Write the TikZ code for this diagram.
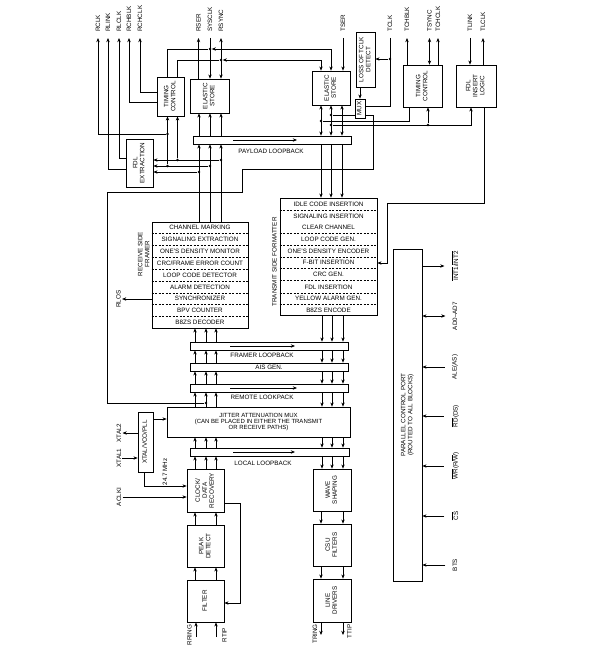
\documentclass[tikz,border=0pt]{standalone}
\usepackage{fontspec}
\setmainfont{Liberation Sans}
\usetikzlibrary{arrows.meta,calc}
\newcommand\vtxt[1]{\rotatebox{90}{\begin{tabular}{@{}c@{}}#1\end{tabular}}}
\newcommand\ovl[1]{$\overline{\mbox{#1}}$}

\begin{document}
\begin{tikzpicture}[x=1pt,y=-1pt,>={Stealth[length=4.2pt,width=3.4pt]},line width=0.65pt,
    font=\fontsize{6.3}{7}\selectfont,
    blk/.style={draw,inner sep=0pt},
    barbox/.style={draw,inner sep=0pt,minimum height=8pt},
    pinl/.style={rotate=90,anchor=west,inner xsep=6pt,inner ysep=1pt},
    sidel/.style={rotate=90,inner sep=1pt},
    dot/.style={circle,fill,inner sep=0pt,minimum size=2.8pt},
    rowline/.style={line width=0.4pt,dash pattern=on 2pt off 1.5pt}]
\useasboundingbox (0,0) rectangle (598,669);

% receive side blocks
\node[blk,minimum width=27pt,minimum height=39pt] (rxtc) at (170.5,96.5) {\vtxt{TIMING\\CONTROL}};
\node[blk,minimum width=39pt,minimum height=34pt] (rxes) at (209.5,96) {\vtxt{ELASTIC\\STORE}};
\node[blk,minimum width=27pt,minimum height=48pt] (fdlx) at (139.5,163) {\vtxt{FDL\\EXTRACTION}};
\node[barbox,minimum width=158pt] (pay) at (272,140) {};
\node[blk,minimum width=96pt,minimum height=106pt] (rxfr) at (200,275) {};
\node[sidel] (rxfrl) at (144.5,254) {\begin{tabular}{@{}c@{}}RECEIVE SIDE\\FRAMER\end{tabular}};

% transmit side blocks
\node[blk,minimum width=38pt,minimum height=34pt] (txes) at (331,88) {\vtxt{ELASTIC\\STORE}};
\node[blk,minimum width=19pt,minimum height=55pt] (loss) at (365.5,59.5) {\vtxt{LOSS OF TCLK\\DETECT}};
\node[blk,minimum width=10pt,minimum height=19pt] (mux) at (360,108.5) {\vtxt{MUX}};
\node[blk,minimum width=39pt,minimum height=42pt] (txtc) at (422.5,86) {\vtxt{TIMING\\CONTROL}};
\node[blk,minimum width=40pt,minimum height=42pt] (fdli) at (476,86) {\vtxt{FDL\\INSERT\\LOGIC}};
\node[blk,minimum width=97pt,minimum height=117pt] (txfm) at (328.5,256.5) {};
\node[sidel] (txfml) at (274.5,262) {TRANSMIT SIDE FORMATTER};

% loopbacks and line interface
\node[barbox,minimum width=158pt] (fbar) at (269,346) {};
\node[barbox,minimum width=158pt] (ais) at (269,367) {AIS GEN.};
\node[barbox,minimum width=158pt] (rbar) at (269,388) {};
\node[blk,minimum width=183pt,minimum height=30pt,align=center,font=\fontsize{6}{6.4}\selectfont] (jam) at (258.5,422)
  {JITTER ATTENUATION MUX\\(CAN BE PLACED IN EITHER THE TRANSMIT\\OR RECEIVE PATHS)};
\node[barbox,minimum width=159pt] (lbar) at (269.5,452) {};
\node[blk,minimum width=15pt,minimum height=60pt] (xtal) at (145.5,442) {\vtxt{XTAL/VCO/PLL}};
\node[blk,minimum width=37pt,minimum height=43pt] (cdr) at (205.5,490.5) {\vtxt{CLOCK/\\DATA\\RECOVERY}};
\node[blk,minimum width=37pt,minimum height=42pt] (peak) at (205.5,546) {\vtxt{PEAK\\DETECT}};
\node[blk,minimum width=37pt,minimum height=42pt] (filt) at (205.5,601) {\vtxt{FILTER}};
\node[blk,minimum width=38pt,minimum height=42pt] (wave) at (332,490) {\vtxt{WAVE\\SHAPING}};
\node[blk,minimum width=38pt,minimum height=42pt] (csu) at (332,545) {\vtxt{CSU\\FILTERS}};
\node[blk,minimum width=38pt,minimum height=43pt] (ldrv) at (332,600.5) {\vtxt{LINE\\DRIVERS}};
\node[blk,minimum width=29pt,minimum height=332pt] (port) at (407.5,415) {\vtxt{PARALLEL CONTROL PORT\\(ROUTED TO ALL BLOCKS)}};

% framer and formatter rows
\foreach \t [count=\i] in {CHANNEL MARKING,SIGNALING EXTRACTION,ONE'S DENSITY MONITOR,CRC/FRAME ERROR COUNT,
    LOOP CODE DETECTOR,ALARM DETECTION,SYNCHRONIZER,BPV COUNTER,B8ZS DECODER}
  \node[inner sep=0pt] (rf\i) at ($(rxfr.north)!{(\i-0.5)/9}!(rxfr.south)$) {\t};
\foreach \i in {1,...,8}
  \draw[rowline] ($(rxfr.north west)!\i/9!(rxfr.south west)$) -- ($(rxfr.north east)!\i/9!(rxfr.south east)$);
\foreach \t/\y [count=\i] in {IDLE CODE INSERTION/204,SIGNALING INSERTION/216.5,CLEAR CHANNEL/227.5,
    LOOP CODE GEN./239.5,ONE'S DENSITY ENCODER/251,F-BIT INSERTION/262.5,CRC GEN./274,
    FDL INSERTION/287,YELLOW ALARM GEN./298.5,B8ZS ENCODE/310}
  \node[inner sep=0pt] (tf\i) at (328.5,\y) {\t};
\foreach \y in {210,233,245,257,268,280.5,293,304}
  \draw[rowline] (txfm.west |- 0,\y) -- (txfm.east |- 0,\y);

% pin labels
\node[pinl] (rclk) at (98,38) {RCLK};
\node[pinl] (rlink) at (108,38) {RLINK};
\node[pinl] (rlclk) at (119,38) {RLCLK};
\node[pinl] (rchblk) at (129,38) {RCHBLK};
\node[pinl] (rchclk) at (140,38) {RCHCLK};
\node[pinl] (rser) at (198.5,38) {RSER};
\node[pinl] (sysclk) at (210,38) {SYSCLK};
\node[pinl] (rsync) at (221,38) {RSYNC};
\node[pinl] (tser) at (343,38) {TSER};
\node[pinl] (tclk) at (390,38) {TCLK};
\node[pinl] (tchblk) at (407,38) {TCHBLK};
\node[pinl] (tsync) at (429.5,38) {TSYNC};
\node[pinl] (tchclk) at (438,38) {TCHCLK};
\node[pinl] (tlink) at (470,38) {TLINK};
\node[pinl] (tlclk) at (483,38) {TLCLK};
\node[sidel] (rlos) at (118.5,299) {RLOS};
\node[sidel] (xtl2) at (119,433) {XTAL2};
\node[sidel] (xtl1) at (119,458) {XTAL1};
\node[sidel] (aclki) at (119,497) {ACLKI};
\node[sidel] (mhz) at (165,472) {24.7 MHz};
\node[sidel] (rring) at (189.5,635) {RRING};
\node[sidel] (rtip) at (224.5,635) {RTIP};
\node[sidel] (tring) at (315,634) {TRING};
\node[sidel] (ttip) at (349.5,631.5) {TTIP};
\node[sidel] (int) at (455,266) {\ovl{INT1}/\ovl{INT2}};
\node[sidel] (adr) at (455,316) {AD0--AD7};
\node[sidel] (ale) at (455,367) {ALE(AS)};
\node[sidel] (rd) at (455,416) {\ovl{RD}(DS)};
\node[sidel] (wr) at (455,466) {\ovl{WR}(R/\ovl{W})};
\node[sidel] (cs) at (455,516) {\ovl{CS}};
\node[sidel] (bts) at (455,565) {BTS};

% loopback labels
\node (plab) at (271,151) {PAYLOAD LOOPBACK};
\node (flab) at (262,355.5) {FRAMER LOOPBACK};
\node (rlab) at (262,397.5) {REMOTE LOOKPACK};
\node (llab) at (263,463) {LOCAL LOOPBACK};
\draw[->] ([xshift=-39pt]pay.center) -- ([xshift=25pt]pay.center);
\draw[->] ([xshift=-39pt]fbar.center) -- ([xshift=26pt]fbar.center);
\draw[->] ([xshift=-39pt]rbar.center) -- ([xshift=28pt]rbar.center);
\draw[->] ([xshift=-36.5pt]lbar.center) -- ([xshift=25.5pt]lbar.center);

% junctions
\node[dot] (jsys) at (210,49) {};
\node[dot] (jsync) at (221,60) {};
\node[dot] (jrclk) at (167.5,134) {};
\node[dot] (jtc1) at (167.5,166) {};
\node[dot] (jtc2) at (177.5,160) {};
\node[dot] (jtclk) at (390,59) {};
\node[dot] (jmux) at (331,115) {};
\node[dot] (jt1) at (321,121) {};
\node[dot] (jt2) at (331,125) {};
\node[dot] (jt3) at (428,125) {};
\node[dot] (jrec) at (206,403) {};

% receive top
\draw[->] (rxtc.west |- 0,92) -| (rchclk.west);
\draw[->] (rxtc.west |- 0,102) -| (rchblk.west);
\draw[->] (fdlx.west |- 0,158) -| (rlclk.west);
\draw[->] (fdlx.west |- 0,169) -| (rlink.west);
\draw[->] (jrclk) -| (rclk.west);
\draw[->] (jtc1) -- (rxtc.south -| jtc1);
\draw[->] (jtc2) -- (rxtc.south -| jtc2);
\draw[<->] (rxtc.north -| 167.5,0) |- (jsys) -| (txes.north -| 331,0);
\draw[<->] (rxtc.north -| 177.5,0) |- (jsync) -| (txes.north -| 321,0);
\draw[->] (sysclk.west) -- (rxes.north -| sysclk.west);
\draw[<->] (rsync.west) -- (rxes.north -| rsync.west);
\draw[->] (rxes.north -| rser.west) -- (rser.west);
\foreach \x/\y [count=\i] in {199/172,210/166,221/160} {
  \draw[->] (rxfr.north -| \x,0) -- (pay.south -| \x,0);
  \draw[->] (pay.north -| \x,0) -- (rxes.south -| \x,0);
  \node[dot] (jr\i) at (\x,\y) {};
  \draw[->] (jr\i) -- (fdlx.east |- jr\i);
}

% transmit top
\draw[->] (tser.west) -- (txes.north -| tser.west);
\draw (tclk.west) |- (mux.east |- 0,106);
\draw[->] (jtclk) -- (loss.east |- jtclk);
\draw[->] (loss.south -| mux.north) -- (mux.north);
\draw (mux.west |- jmux) -- (jmux);
\draw[->] (txtc.north -| tchblk.west) -- (tchblk.west);
\draw[<->] (tsync.west) -- (txtc.north -| tsync.west);
\draw[->] (txtc.north -| tchclk.west) -- (tchclk.west);
\draw[->] (tlink.west) -- (fdli.north -| tlink.west);
\draw[->] (fdli.north -| tlclk.west) -- (tlclk.west);
\draw (txtc.south -| 409,0) |- (jt1);
\draw[->] (jt2) -| (fdli.south -| 471,0);
\draw[->] (jt3) -- (txtc.south -| jt3);
\draw[->] (fdli.south -| 484,0) |- (387,203) |- (txfm.east |- 0,263);
\foreach \x in {321,331,342} {
  \draw[<->] (txes.south -| \x,0) -- (pay.north -| \x,0);
  \draw[->] (pay.south -| \x,0) -- (txfm.north -| \x,0);
}

% recovered clock to mux
\draw (jrec) -| (107,192) -| (242,169) -| (373,115) -- (mux.east |- 0,115);

% receive path
\draw[->] (rxfr.west |- rlos) -- (rlos.south);
\foreach \x in {195,206,216} {
  \draw[->] (fbar.north -| \x,0) -- (rxfr.south -| \x,0);
  \draw[->] (ais.north -| \x,0) -- (fbar.south -| \x,0);
  \draw[->] (rbar.north -| \x,0) -- (ais.south -| \x,0);
  \draw[->] (jam.north -| \x,0) -- (rbar.south -| \x,0);
  \draw[->] (lbar.north -| \x,0) -- (jam.south -| \x,0);
  \draw[->] (cdr.north -| \x,0) -- (lbar.south -| \x,0);
}
\foreach \x in {195,216} {
  \draw[->] (peak.north -| \x,0) -- (cdr.south -| \x,0);
  \draw[->] (filt.north -| \x,0) -- (peak.south -| \x,0);
}
\coordinate (rringp) at (196,637);
\coordinate (rtipp) at (216,637);
\draw[->] (rringp) -- (filt.south -| rringp);
\draw[->] (rtipp) -- (filt.south -| rtipp);
\draw[->] (cdr.east |- 0,503) -- (240,503) |- (filt.east |- 0,603);

% transmit path
\foreach \x in {322,332,343} {
  \draw[->] (txfm.south -| \x,0) -- (fbar.north -| \x,0);
  \draw[->] (fbar.south -| \x,0) -- (ais.north -| \x,0);
  \draw[->] (ais.south -| \x,0) -- (rbar.north -| \x,0);
  \draw[->] (rbar.south -| \x,0) -- (jam.north -| \x,0);
  \draw[->] (jam.south -| \x,0) -- (lbar.north -| \x,0);
  \draw[->] (lbar.south -| \x,0) -- (wave.north -| \x,0);
}
\foreach \x in {321,343} {
  \draw[->] (wave.south -| \x,0) -- (csu.north -| \x,0);
  \draw[->] (csu.south -| \x,0) -- (ldrv.north -| \x,0);
}
\coordinate (tringp) at (321,635);
\coordinate (ttipp) at (343,635);
\draw[->] (ldrv.south -| tringp) -- (tringp);
\draw[->] (ldrv.south -| ttipp) -- (ttipp);

% clocks
\draw[->] (xtal.east |- 0,419) -- (jam.west |- 0,419);
\draw[->] (xtal.west |- xtl2) -- (xtl2.south);
\draw[->] (xtl1.south) -- (xtal.west |- xtl1);
\draw[->] (xtal.south -| 144,0) |- (cdr.west |- 0,486);
\draw[->] (aclki.south) -- (cdr.west |- aclki);

% processor port
\draw[->,shorten >=6pt] (port.east |- int) -- (int.north);
\draw[<->,shorten >=6pt] (port.east |- adr) -- (adr.north);
\draw[->,shorten <=6pt] (ale.north) -- (port.east |- ale);
\draw[->,shorten <=6pt] (rd.north) -- (port.east |- rd);
\draw[->,shorten <=6pt] (wr.north) -- (port.east |- wr);
\draw[->,shorten <=6pt] (cs.north) -- (port.east |- cs);
\draw[->,shorten <=6pt] (bts.north) -- (port.east |- bts);
\end{tikzpicture}
\end{document}
